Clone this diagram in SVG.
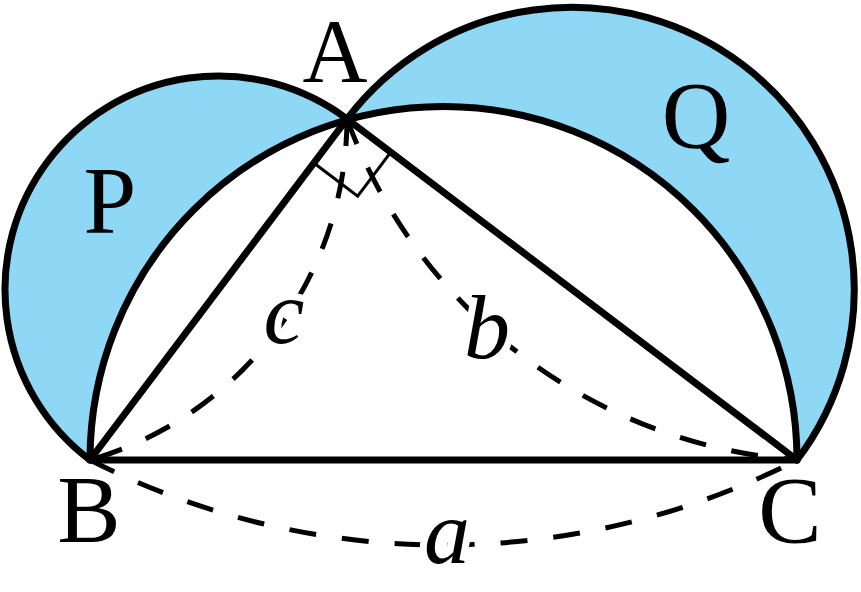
<svg xmlns="http://www.w3.org/2000/svg" width="861" height="592" viewBox="0 0 861 592">
  <style>
    .lune { fill: #8ED8F6; stroke: none; }
    .line { fill: none; stroke: #000; stroke-width: 7; stroke-linejoin: round; stroke-linecap: round; }
    .dash { fill: none; stroke: #000; stroke-width: 5; stroke-dasharray: 27 26; }
    .mark { fill: none; stroke: #000; stroke-width: 3; }
    .lbl { font-family: "Liberation Serif", "Times New Roman", serif; font-size: 95px; fill: #000; text-anchor: middle; }
    .var { font-family: "Liberation Serif", "Times New Roman", serif; font-size: 92px; font-style: italic; fill: #000; text-anchor: middle; stroke: #fff; stroke-width: 14; paint-order: stroke; stroke-linejoin: round; }
  </style>
  <rect width="861" height="592" fill="#fff"/>
  <g id="lune-P">
    <path class="lune" d="M 90 460 A 213.5 213.5 0 0 1 347 119 A 353.5 353.5 0 0 0 90 460 Z"/>
  </g>
  <g id="lune-Q">
    <path class="lune" d="M 347 119 A 282.3 282.3 0 0 1 797 460 A 353.5 353.5 0 0 0 347 119 Z"/>
  </g>
  <g id="arcs">
    <path class="line" d="M 90 460 A 353.5 353.5 0 0 1 797 460"/>
    <path class="line" d="M 90 460 A 213.5 213.5 0 0 1 347 119"/>
    <path class="line" d="M 347 119 A 282.3 282.3 0 0 1 797 460"/>
  </g>
  <g id="triangle">
    <path class="line" d="M 347 119 L 90 460 L 797 460 Z"/>
  </g>
  <g id="connectors">
    <path class="dash" d="M 347 119 A 356 356 0 0 1 90 460"/>
    <path class="dash" d="M 347 119 A 522 522 0 0 0 797 460"/>
    <path class="dash" d="M 90 460 A 777.6 777.6 0 0 0 797 460"/>
  </g>
  <g id="right-angle">
    <path class="mark" d="M 313.9 163 L 357.7 196.2 L 390.8 152.2"/>
  </g>
  <g id="node-A"><text class="lbl" x="335" y="82" style="font-size:90px">A</text></g>
  <g id="node-B"><text class="lbl" x="89" y="542">B</text></g>
  <g id="node-C"><text class="lbl" x="790" y="543">C</text></g>
  <g id="region-P"><text class="lbl" x="110" y="233">P</text></g>
  <g id="region-Q"><text class="lbl" x="696" y="148">Q</text></g>
  <g id="label-c"><text class="var" x="284" y="343">c</text></g>
  <g id="label-b"><text class="var" x="487" y="358">b</text></g>
  <g id="label-a"><text class="var" x="447" y="563">a</text></g>
</svg>
